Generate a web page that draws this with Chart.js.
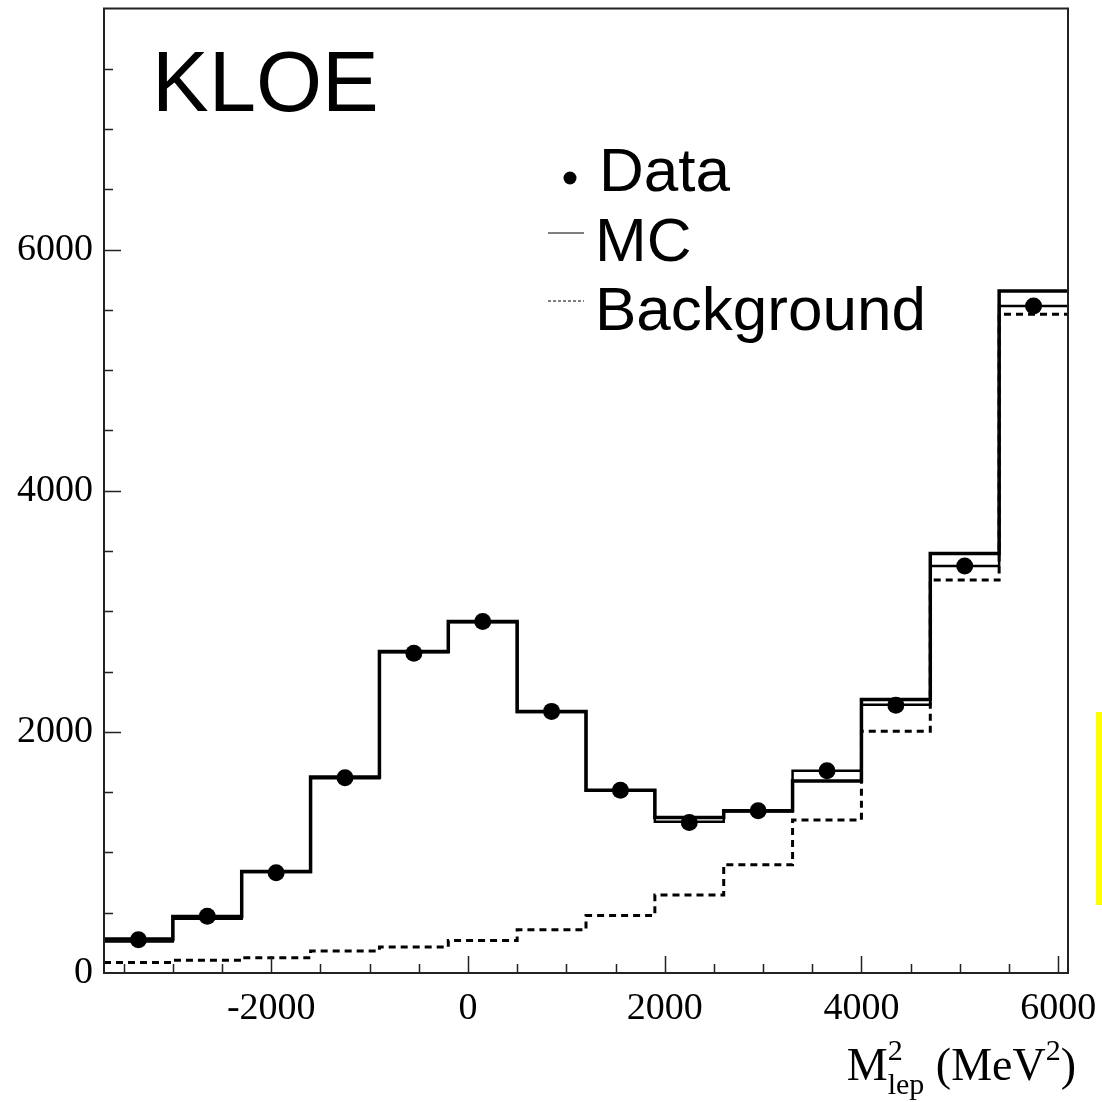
<!DOCTYPE html>
<html>
<head>
<meta charset="utf-8">
<script src="https://cdn.jsdelivr.net/npm/chart.js@4.4.1/dist/chart.umd.min.js"></script>
<style>
  html, body { margin: 0; padding: 0; background: #fff; }
  #wrap { width: 1102px; height: 1102px; }
</style>
</head>
<body>
<div id="wrap"><canvas id="grafico" width="1102" height="1102"></canvas></div>
<script>
// bin edges in MeV^2 and the content of each bin
const binEdges = [-3700, -3000, -2300, -1600, -900, -200, 500, 1200, 1900, 2600, 3300, 4000, 4700, 5400, 6100];
const dataValues = [276, 471, 832, 1620, 2653, 2915, 2170, 1516, 1248, 1345, 1677, 2221, 3375, 5532];
const mcTotal = [282, 468, 842, 1625, 2667, 2915, 2168, 1516, 1290, 1345, 1592, 2268, 3479, 5656];
const mcFit = [262, 450, 838, 1615, 2660, 2910, 2165, 1512, 1255, 1340, 1677, 2226, 3375, 5532];
const background = [88, 105, 127, 182, 215, 270, 358, 477, 648, 898, 1270, 2006, 3259, 5463];
const xTickLabels = [-2000, 0, 2000, 4000, 6000];
const yTickLabels = [0, 2000, 4000, 6000];

// histogram as step line: one point per left edge + closing point
function degraus(valores) {
  const pts = valores.map((v, i) => ({ x: binEdges[i], y: v }));
  pts.push({ x: binEdges[binEdges.length - 1], y: valores[valores.length - 1] });
  return pts;
}
const centros = dataValues.map((v, i) => ({ x: (binEdges[i] + binEdges[i + 1]) / 2, y: v }));

const SERIF = "'Liberation Serif', 'DejaVu Serif', serif";
const SANS = "'Liberation Sans', Arial, sans-serif";

const moldura = {
  id: 'moldura',
  afterDatasetsDraw(chart) {
    const { ctx, chartArea: a, scales: { x, y } } = chart;
    ctx.save();
    ctx.strokeStyle = '#222';
    ctx.lineWidth = 1.5;
    ctx.beginPath();
    for (let v = -3500; v <= 6000; v += 500) {
      const px = Math.round(x.getPixelForValue(v)) + 0.5;
      const len = v % 2000 === 0 ? 17 : 9;
      ctx.moveTo(px, a.bottom);
      ctx.lineTo(px, a.bottom - len);
    }
    for (let v = 500; v <= 7500; v += 500) {
      const py = Math.round(y.getPixelForValue(v)) + 0.5;
      const len = v % 2000 === 0 ? 17 : 9;
      ctx.moveTo(a.left, py);
      ctx.lineTo(a.left + len, py);
    }
    ctx.stroke();
    ctx.lineWidth = 2;
    ctx.strokeRect(a.left, a.top, a.right - a.left, a.bottom - a.top);
    ctx.restore();
  }
};

const textos = {
  id: 'textos',
  afterDraw(chart) {
    const { ctx, chartArea: a } = chart;
    ctx.save();
    ctx.fillStyle = '#000';
    ctx.textBaseline = 'alphabetic';
    ctx.textAlign = 'left';

    ctx.font = '85px ' + SANS;
    ctx.fillText('KLOE', 152, 111);

    // legend
    ctx.font = '62px ' + SANS;
    ctx.beginPath();
    ctx.arc(570, 178, 6.5, 0, Math.PI * 2);
    ctx.fill();
    ctx.fillText('Data', 599, 191);
    ctx.fillText('MC', 595, 261);
    ctx.fillText('Background', 595, 330);
    ctx.strokeStyle = '#000';
    ctx.lineWidth = 1.2;
    ctx.beginPath();
    ctx.moveTo(548, 233); ctx.lineTo(584, 233);
    ctx.stroke();
    ctx.setLineDash([3, 2]);
    ctx.beginPath();
    ctx.moveTo(548, 301); ctx.lineTo(584, 301);
    ctx.stroke();
    ctx.setLineDash([]);

    // x axis title: M^2_lep (MeV^2)
    const base = 1080;
    const big = '46px ' + SERIF, small = '30px ' + SERIF;
    const partes = [
      { t: 'M', f: big, dy: 0 },
      { t: '2', f: small, dy: -20, pilha: 'lep' },
      { t: ' (MeV', f: big, dy: 0 },
      { t: '2', f: small, dy: -20 },
      { t: ')', f: big, dy: 0 }
    ];
    let total = 0;
    partes.forEach(p => {
      ctx.font = p.f;
      let w = ctx.measureText(p.t).width;
      if (p.pilha) w = Math.max(w, ctx.measureText(p.pilha).width);
      p.w = w;
      total += w;
    });
    let cx = a.right + 8 - total;
    partes.forEach(p => {
      ctx.font = p.f;
      ctx.fillText(p.t, cx, base + p.dy);
      if (p.pilha) ctx.fillText(p.pilha, cx, base + 14);
      cx += p.w;
    });

    // yellow mark at right edge
    ctx.fillStyle = '#ffff00';
    ctx.fillRect(chart.width - 6, 712, 6, 193);
    ctx.restore();
  }
};

const ctx = document.getElementById('grafico');

new Chart(ctx, {
  type: 'line',
  data: {
    datasets: [
      {
        label: 'Background',
        data: degraus(background),
        stepped: true,
        borderColor: '#000',
        borderWidth: 3,
        borderDash: [7, 5],
        pointRadius: 0,
        fill: false
      },
      {
        label: 'MC',
        data: degraus(mcTotal),
        stepped: true,
        borderColor: '#000',
        borderWidth: 3.5,
        pointRadius: 0,
        fill: false
      },
      {
        label: 'MC fit',
        data: degraus(mcFit),
        stepped: true,
        borderColor: '#000',
        borderWidth: 2.5,
        pointRadius: 0,
        fill: false
      },
      {
        type: 'scatter',
        label: 'Data',
        data: centros,
        pointRadius: 8.5,
        pointBackgroundColor: '#000',
        pointBorderWidth: 0,
        showLine: false
      }
    ]
  },
  options: {
    responsive: false,
    animation: false,
    devicePixelRatio: 1,
    layout: { padding: { left: 0, right: 34, top: 5, bottom: 0 } },
    plugins: {
      legend: { display: false },
      tooltip: { enabled: false }
    },
    scales: {
      x: {
        type: 'linear',
        min: binEdges[0],
        max: binEdges[binEdges.length - 1],
        grid: { display: false, drawTicks: false },
        border: { display: false },
        afterBuildTicks: (s) => { s.ticks = xTickLabels.map(v => ({ value: v })); },
        afterFit: (s) => {
          s.height = 129;
          s.paddingLeft = 0; s.paddingRight = 0;
        },
        ticks: {
          color: '#000',
          font: { family: SERIF, size: 38 },
          padding: 13,
          maxRotation: 0,
          autoSkip: false,
          callback: (v) => String(v)
        }
      },
      y: {
        type: 'linear',
        min: 0,
        max: 8000,
        grid: { display: false, drawTicks: false },
        border: { display: false },
        afterBuildTicks: (s) => { s.ticks = yTickLabels.map(v => ({ value: v })); },
        afterFit: (s) => {
          s.width = 104;
          s.paddingTop = 0; s.paddingBottom = 0;
        },
        ticks: {
          color: '#000',
          font: { family: SERIF, size: 38 },
          padding: 11,
          autoSkip: false,
          callback: (v) => String(v)
        }
      }
    }
  },
  plugins: [moldura, textos]
});
</script>
</body>
</html>
